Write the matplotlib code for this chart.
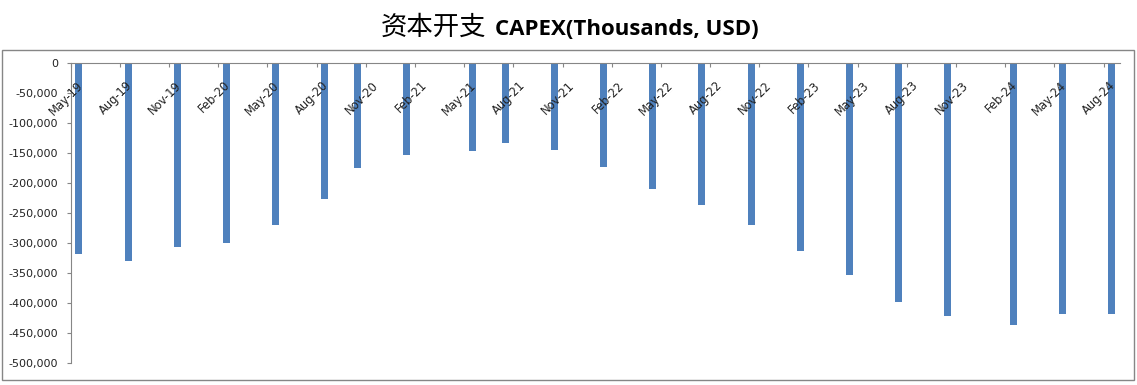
import pandas as pd
import matplotlib
matplotlib.use('Agg')
import matplotlib.pyplot as plt
from matplotlib.patches import Rectangle
from matplotlib.ticker import FuncFormatter
from matplotlib.transforms import offset_copy

# Tick labels on the date axis (every 3 months)
tick_labels = ['May-19', 'Aug-19', 'Nov-19', 'Feb-20', 'May-20', 'Aug-20', 'Nov-20', 'Feb-21',
               'May-21', 'Aug-21', 'Nov-21', 'Feb-22', 'May-22', 'Aug-22', 'Nov-22', 'Feb-23',
               'May-23', 'Aug-23', 'Nov-23', 'Feb-24', 'May-24', 'Aug-24']

# Reporting months of each quarter and capex (thousands USD)
report_months = ['2019-05', '2019-08', '2019-11', '2020-02', '2020-05', '2020-08', '2020-10',
                 '2021-01', '2021-05', '2021-07', '2021-10', '2022-01', '2022-04', '2022-07',
                 '2022-10', '2023-01', '2023-04', '2023-07', '2023-10', '2024-02', '2024-05',
                 '2024-08']
capex = [-317000, -329000, -305600, -299000, -269000, -225600, -174000,
         -152300, -145600, -132300, -144000, -172300, -209000, -235600,
         -269000, -312300, -352300, -397300, -420600, -435600, -417300,
         -417300]

start = pd.Timestamp('2019-05-01')


def month_index(d):
    return (d.year - start.year) * 12 + d.month - start.month


bar_x = [month_index(pd.Timestamp(m + '-01')) + 0.5 for m in report_months]
tick_x = [month_index(pd.to_datetime(t, format='%b-%y')) for t in tick_labels]

grey = '#868686'
plt.rcParams['font.family'] = ['DejaVu Sans']

fig = plt.figure(figsize=(11.37, 3.85), dpi=100)
ax = fig.add_axes([70.7 / 1137, 1 - 363.3 / 385, (1120 - 70.7) / 1137, 300 / 385])

ax.bar(bar_x, capex, width=0.42, color='#4F81BD')

ax.set_xlim(0, 64)
ax.set_ylim(-500000, 0)
ax.set_yticks(range(-500000, 1, 50000))
ax.yaxis.set_major_formatter(FuncFormatter(lambda v, p: f'{v:,.0f}'))
ax.tick_params(axis='y', direction='out', length=3, width=0.8, color=grey,
               labelsize=8, pad=6, labelcolor='#222222')

ax.xaxis.set_ticks_position('top')
ax.set_xticks(tick_x)
ax.set_xticklabels([])
ax.tick_params(axis='x', direction='in', length=3, width=0.8, color=grey)

for s in ['right', 'bottom']:
    ax.spines[s].set_visible(False)
for s in ['left', 'top']:
    ax.spines[s].set_color(grey)
    ax.spines[s].set_linewidth(0.8)

# rotated date labels hanging below the zero line
lab_tr = offset_copy(ax.get_xaxis_transform(), fig=fig, x=10, y=-20, units='dots')
for x, t in zip(tick_x, tick_labels):
    ax.text(x, 1, t, transform=lab_tr, rotation=45, rotation_mode='anchor',
            ha='right', va='center', fontsize=8.3, color='#222222')

# outer chart border
fig.patches.append(Rectangle((2 / 1137, 1 - 379.5 / 385), 1132 / 1137, 330 / 385,
                             transform=fig.transFigure, fill=False,
                             edgecolor=grey, lw=1))

# title: Chinese regular + English bold
fig.text(381 / 1137, 1 - 35 / 385, '资本开支', family=['Noto Sans CJK SC', 'DejaVu Sans'],
         fontsize=19, ha='left', va='baseline')
fig.text(495 / 1137, 1 - 35 / 385, 'CAPEX(Thousands, USD)', family=['Open Sans', 'DejaVu Sans'],
         fontweight='bold', fontsize=16, ha='left', va='baseline')

fig.savefig('out.png', dpi=100)
